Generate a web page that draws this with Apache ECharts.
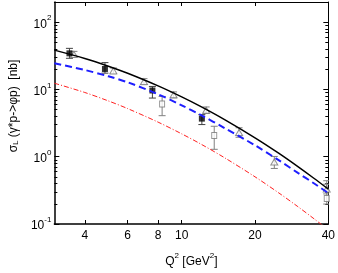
<!DOCTYPE html>
<html><head><meta charset="utf-8">
<script src="https://cdn.jsdelivr.net/npm/echarts@6/dist/echarts.min.js"></script>
<style>html,body{margin:0;padding:0;background:#fff}#c{width:338px;height:273px}</style>
</head><body><div id="c"></div>
<script>
// axis ranges and tick labels
const xRange = [3, 40];
const yRange = [0.1, 200];
const xTickValues = [4, 6, 8, 10, 20, 40];
const yTickValues = [0.1, 1, 10, 100];

// model curves
const curveQ2   = [3, 4, 5, 6, 8, 10, 12, 15, 20, 25, 30, 35, 40];
const blackCurve = [38.5, 28.9, 22.2, 17.4, 11.3, 7.75, 5.55, 3.56, 1.91, 1.13, 0.713, 0.475, 0.33];
const blueCurve  = [24.5, 19.5, 15.7, 12.8, 8.48, 5.81, 4.16, 2.67, 1.48, 0.89, 0.575, 0.40, 0.288];
const redCurve   = [12.4, 9.03, 6.76, 5.20, 3.27, 2.19, 1.54, 0.966, 0.503, 0.291, 0.181, 0.119, 0.0817];

// filled squares
const sqQ2  = [3.46, 4.84, 7.58, 12.1];
const sqVal = [34.5, 20.2, 9.67, 3.69];
const sqLo  = [29.1, 17.5, 7.46, 3.01];
const sqHi  = [40.9, 25.1, 11.1, 4.23];

// open triangles
const triQ2  = [3.61, 5.24, 7.0, 9.26, 12.6, 17.2, 24.0, 39.4];
const triVal = [33.3, 18.9, 13.1, 8.35, 4.90, 2.29, 0.835, 0.33];
const triLo  = [30.1, 17.1, 11.8, 7.5, 4.4, 1.95, 0.67, 0.28];
const triHi  = [36.9, 20.9, 14.5, 9.2, 5.5, 2.7, 1.01, 0.39];

// open squares
const osQ2  = [8.31, 13.6, 39.4];
const osVal = [6.09, 2.07, 0.24];
const osLo  = [4.08, 1.29, 0.198];
const osHi  = [7.88, 2.84, 0.44];

const L = Math.log10;
const FONT = 'Liberation Sans';
const xMajor = xTickValues.map(L);
const yMajor = yTickValues.map(L);
const yMinor = [];
yTickValues.forEach(d => { for (let k = 2; k <= 9; k++) { if (k * d <= yRange[1]) yMinor.push(L(k * d)); } });

const zip = (xs, ys) => xs.map((x, i) => [x, ys[i]]);
const zip4 = (xs, ys, lo, hi) => xs.map((x, i) => [x, ys[i], lo[i], hi[i]]);

function errBar(color) {
  return function (params, api) {
    const x = api.value(0);
    const p1 = api.coord([x, api.value(2)]);
    const p2 = api.coord([x, api.value(3)]);
    const w = 3.5;
    const st = { stroke: color, lineWidth: 1 };
    return { type: 'group', children: [
      { type: 'line', shape: { x1: p1[0], y1: p1[1], x2: p2[0], y2: p2[1] }, style: st },
      { type: 'line', shape: { x1: p1[0] - w, y1: p1[1], x2: p1[0] + w, y2: p1[1] }, style: st },
      { type: 'line', shape: { x1: p2[0] - w, y1: p2[1], x2: p2[0] + w, y2: p2[1] }, style: st }
    ]};
  };
}

const richMain = { fontSize: 12, lineHeight: 16, verticalAlign: 'bottom', fontFamily: FONT, color: '#000' };
const richSup = { fontSize: 8, lineHeight: 8, verticalAlign: 'top', fontFamily: FONT, color: '#000' };
const richSub = { fontSize: 8, lineHeight: 8, verticalAlign: 'bottom', fontFamily: FONT, color: '#000' };

const lx = [L(xRange[0]), L(xRange[1])];
const ly = [L(yRange[0]), L(yRange[1])];

const tickAxisX = (pos, extra) => Object.assign({
  type: 'value', position: pos, min: lx[0], max: lx[1],
  axisLine: { show: true, onZero: false, lineStyle: { color: '#000', width: pos === 'bottom' ? 1.5 : 1 } },
  axisTick: { show: true, inside: true, length: 4, customValues: xMajor, lineStyle: { color: '#000', width: 1 } },
  axisLabel: { show: false },
  splitLine: { show: false }
}, extra || {});

const tickAxisY = (pos, major, extra) => Object.assign({
  type: 'value', position: pos, min: ly[0], max: ly[1],
  axisLine: { show: major, onZero: false, lineStyle: { color: '#000', width: pos === 'left' ? 1.5 : 1 } },
  axisTick: { show: true, inside: true, length: major ? 5 : 3, customValues: major ? yMajor : yMinor, lineStyle: { color: '#000', width: 1 } },
  axisLabel: { show: false },
  splitLine: { show: false }
}, extra || {});

const option = {
  animation: false,
  backgroundColor: '#fff',
  grid: { left: 49, right: 8, top: 2, bottom: 48, containLabel: false },
  xAxis: [
    { type: 'log', logBase: 10, min: xRange[0], max: xRange[1], show: false },
    tickAxisX('bottom', {
      axisLabel: { show: true, customValues: xMajor, margin: 6, fontSize: 12, fontFamily: FONT, color: '#000',
        formatter: v => String(Math.round(Math.pow(10, v))) },
      name: '{m|Q}{s|2}{m| [GeV}{s|2}{m|]}', nameLocation: 'middle', nameGap: 28,
      nameTextStyle: { rich: { m: richMain, s: richSup } }
    }),
    tickAxisX('top')
  ],
  yAxis: [
    { type: 'log', logBase: 10, min: yRange[0], max: yRange[1], show: false },
    tickAxisY('left', true, {
      axisLabel: { show: true, customValues: yMajor, margin: 3,
        formatter: v => '{b|10}{s|' + Math.round(v) + '}',
        rich: { b: richMain, s: richSup } },
      name: '{m|σ}{u|L}{m| (γ*p->φp)  [nb]}', nameLocation: 'middle', nameGap: 30,
      nameTextStyle: { padding: [0, 0, 0, 14], rich: { m: richMain, u: richSub } }
    }),
    tickAxisY('left', false),
    tickAxisY('right', true),
    tickAxisY('right', false)
  ],
  series: [
    { type: 'line', data: zip(curveQ2, redCurve), symbol: 'none', smooth: 0.3, clip: true,
      lineStyle: { color: '#ff2020', width: 1, type: [5, 2, 1, 2] } },
    { type: 'line', data: zip(curveQ2, blueCurve), symbol: 'none', smooth: 0.3, clip: true,
      lineStyle: { color: '#1e1eff', width: 2, type: [7, 4] } },
    { type: 'line', data: zip(curveQ2, blackCurve), symbol: 'none', smooth: 0.3, clip: true,
      lineStyle: { color: '#000', width: 1.5 } },
    { type: 'custom', renderItem: errBar('#808080'), data: zip4(triQ2, triVal, triLo, triHi), encode: { x: 0, y: [1, 2, 3] }, clip: true },
    { type: 'custom', renderItem: errBar('#808080'), data: zip4(osQ2, osVal, osLo, osHi), encode: { x: 0, y: [1, 2, 3] }, clip: true },
    { type: 'custom', renderItem: errBar('#404040'), data: zip4(sqQ2, sqVal, sqLo, sqHi), encode: { x: 0, y: [1, 2, 3] }, clip: true },
    { type: 'scatter', data: zip(triQ2, triVal), symbol: 'triangle', symbolSize: [7, 6],
      itemStyle: { color: '#fff', borderColor: '#777', borderWidth: 1 } },
    { type: 'scatter', data: zip(osQ2, osVal), symbol: 'rect', symbolSize: [5, 6],
      itemStyle: { color: '#fff', borderColor: '#777', borderWidth: 1 } },
    { type: 'scatter', data: zip(sqQ2, sqVal), symbol: 'rect', symbolSize: 6,
      itemStyle: { color: '#000' } }
  ]
};
const chart = echarts.init(document.getElementById('c'), null, { renderer: 'canvas' });
chart.setOption(option);
</script>
</body></html>
